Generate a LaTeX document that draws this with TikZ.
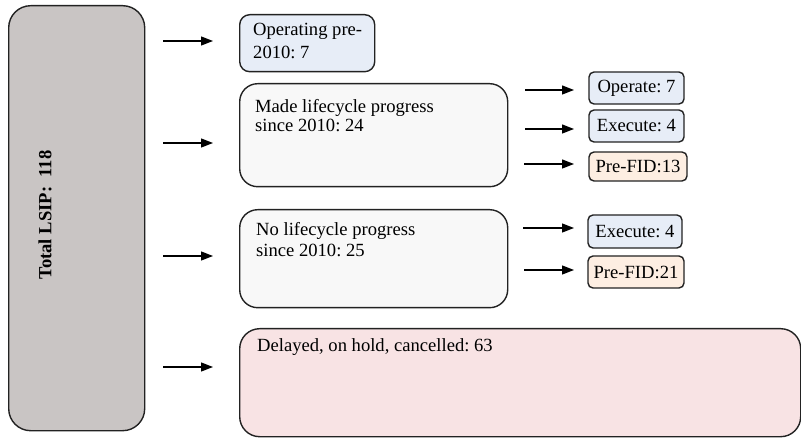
\documentclass[tikz,border=0pt]{standalone}
\usepackage{fontspec}
\setmainfont{Liberation Serif}
\usetikzlibrary{arrows.meta}
\frenchspacing

\definecolor{totalgray}{HTML}{C9C5C4}
\definecolor{opblue}{HTML}{E7EDF7}
\definecolor{paleface}{HTML}{F8F8F8}
\definecolor{peach}{HTML}{FDEEE2}
\definecolor{rosefill}{HTML}{F8E3E4}
\definecolor{edge}{HTML}{222222}

\begin{document}
\begin{tikzpicture}[x=1pt,y=-1pt,
  box/.style={draw=edge, line width=1.4pt, inner sep=0pt, anchor=north west},
  sbox/.style={draw=edge, line width=1.4pt, inner sep=0pt, anchor=center,
    rounded corners=5pt, font=\fontsize{18.6}{22}\selectfont},
  txt/.style={inner sep=0pt, align=left, anchor=north west},
  arr/.style={draw=black, line width=1.3pt, -{Triangle[length=12pt,width=9pt]}}]

\useasboundingbox (0,0) rectangle (801,438);

% left column: total
\node[box, fill=totalgray, rounded corners=22pt, minimum width=136pt, minimum height=425pt] (total) at (8,5) {};
\node[font=\bfseries\fontsize{18.6}{22}\selectfont, rotate=90, inner sep=0pt] (totaltxt) at (45,215) {Total LSIP:\ \ 118};

% middle column
\node[box, fill=opblue, rounded corners=10pt, minimum width=135pt, minimum height=57pt] (op) at (239,14) {};
\node[txt, font=\fontsize{18.6}{23}\selectfont] (optxt) at (253,23.2) {Operating pre-\\2010: 7};

\node[box, fill=paleface, rounded corners=18pt, minimum width=268pt, minimum height=103pt] (made) at (239,83) {};
\node[txt, font=\fontsize{18.6}{18.5}\selectfont] (madetxt) at (255,99.3) {Made lifecycle progress\\since 2010: 24};

\node[box, fill=paleface, rounded corners=18pt, minimum width=268pt, minimum height=98pt] (nolc) at (239,209) {};
\node[txt, font=\fontsize{18.6}{21.5}\selectfont] (nolctxt) at (256,222) {No lifecycle progress\\since 2010: 25};

\node[box, fill=rosefill, rounded corners=20pt, minimum width=561pt, minimum height=108pt] (delay) at (239,328) {};
\node[inner sep=0pt, anchor=base west, font=\fontsize{18.6}{22}\selectfont] (delaytxt) at (257,352) {Delayed, on hold, cancelled: 63};

% right column
\node[sbox, fill=opblue, minimum width=95pt, minimum height=32pt] (operate) at (636.5,88) {Operate: 7};
\node[sbox, fill=opblue, minimum width=95pt, minimum height=32pt] (execA) at (636.5,126) {Execute: 4};
\node[sbox, fill=peach, minimum width=98pt, minimum height=29pt] (prefidA) at (638,166.5) {Pre-FID:13};
\node[sbox, fill=opblue, minimum width=94pt, minimum height=33pt] (execB) at (635,231.5) {Execute: 4};
\node[sbox, fill=peach, minimum width=96pt, minimum height=32pt] (prefidB) at (636,272) {Pre-FID:21};

% arrow end points
\coordinate (s1) at (163,41);  \coordinate (e1) at (213,41);
\coordinate (s2) at (163,143); \coordinate (e2) at (213,143);
\coordinate (s3) at (163,256); \coordinate (e3) at (213,256);
\coordinate (s4) at (163,367); \coordinate (e4) at (213,367);
\coordinate (s5) at (525,90);  \coordinate (e5) at (574,90);
\coordinate (s6) at (525,129); \coordinate (e6) at (574,129);
\coordinate (s7) at (524,164); \coordinate (e7) at (574,164);
\coordinate (s8) at (523,228); \coordinate (e8) at (574,228);
\coordinate (s9) at (524,270); \coordinate (e9) at (574,270);

\foreach \i in {1,...,9} { \draw[arr] (s\i) -- (e\i); }

\end{tikzpicture}
\end{document}
